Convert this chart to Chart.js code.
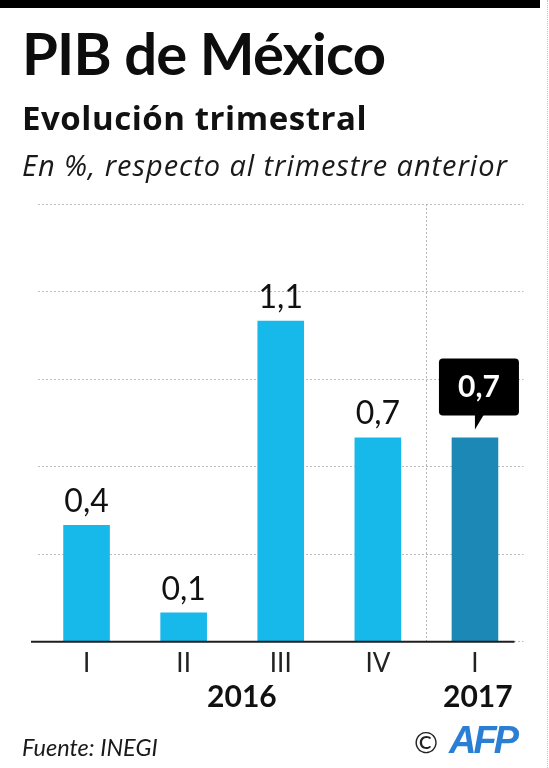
<!DOCTYPE html>
<html><head><meta charset="utf-8">
<script src="https://cdn.jsdelivr.net/npm/chart.js@4.4.0/dist/chart.umd.min.js"></script>
<style>
html,body{margin:0;padding:0;background:#fff;}
body{width:549px;height:768px;position:relative;overflow:hidden;font-family:Lato,"Noto Sans",sans-serif;color:#111;}
#topbar{position:absolute;left:0;top:0;width:540px;height:8px;background:#000;}
#rightedge{position:absolute;right:1px;top:0;width:0;height:768px;border-right:1px dotted #c9bcd6;}
.t{position:absolute;left:22px;white-space:nowrap;line-height:1;margin:0;}
#title{top:24px;font-size:58px;font-weight:700;color:#0d0d0d;letter-spacing:-0.8px;}
#sub{top:101px;font-size:33px;font-weight:700;color:#111;font-family:"Open Sans",Lato,sans-serif;letter-spacing:0.55px;}
#sub2{top:150px;font-size:29px;font-style:italic;font-weight:400;color:#1a1a1a;font-family:"Open Sans",Lato,sans-serif;letter-spacing:0.95px;}
#src{top:736px;font-size:23.5px;font-style:italic;color:#1a1a1a;}
#copy{position:absolute;left:414px;top:727px;font-size:29px;line-height:1;color:#222;}
#afp{position:absolute;left:449px;top:721px;font-size:38px;line-height:1;font-weight:900;font-style:italic;color:#2a7fd4;letter-spacing:-3px;font-family:"Liberation Sans",Arial,sans-serif;}
canvas{position:absolute;left:0;top:0;}
</style></head>
<body>
<div id="topbar"></div>
<div id="rightedge"></div>
<canvas id="c" width="549" height="768"></canvas>
<div class="t" id="title">PIB de México</div>
<div class="t" id="sub">Evolución trimestral</div>
<div class="t" id="sub2">En %, respecto al trimestre anterior</div>
<div class="t" id="src">Fuente: INEGI</div>
<div id="copy">©</div>
<div id="afp">AFP</div>
<script>
const categories = ['I', 'II', 'III', 'IV', 'I'];
const values = [0.4, 0.1, 1.1, 0.7, 0.7];
const gridValues = [0, 0.3, 0.6, 0.9, 1.2, 1.5];
const yearLabels = ['2016', '2017'];
const yearPositions = [1.6, 4.03];
const highlightIndex = 4;

const LIGHT = '#17b8ea';
const DARK = '#1b88b5';
const fmt = v => v.toFixed(1).replace('.', ',');

const decor = {
  id: 'decor',
  beforeDatasetsDraw(chart) {
    const {ctx, chartArea, scales} = chart;
    const x = scales.x, y = scales.y;
    const sx = (x.getPixelForValue(3) + x.getPixelForValue(4)) / 2;
    ctx.save();
    ctx.strokeStyle = '#b5b5b5';
    ctx.lineWidth = 1;
    ctx.setLineDash([2, 2]);
    ctx.beginPath();
    ctx.moveTo(Math.round(sx) + 0.5, chartArea.top);
    ctx.lineTo(Math.round(sx) + 0.5, y.getPixelForValue(0));
    ctx.stroke();
    ctx.restore();
  },
  afterDatasetsDraw(chart) {
    const {ctx, chartArea, scales} = chart;
    const x = scales.x, y = scales.y;
    const meta = chart.getDatasetMeta(0);
    ctx.save();
    const by = y.getPixelForValue(0);
    ctx.strokeStyle = '#1e1e1e';
    ctx.lineWidth = 2;
    ctx.beginPath();
    ctx.moveTo(chartArea.left - 7, by);
    ctx.lineTo(chartArea.right - 9, by);
    ctx.stroke();
    meta.data.forEach((bar, i) => {
      const v = values[i];
      if (i === highlightIndex) {
        const bw = 80, bh = 57;
        const cx = bar.x + 4;
        const tipY = bar.y - 8;
        const bottom = tipY - 14;
        const top = bottom - bh;
        const left = cx - bw / 2;
        ctx.fillStyle = '#000';
        ctx.beginPath();
        ctx.roundRect(left, top, bw, bh, 4);
        ctx.fill();
        ctx.beginPath();
        ctx.moveTo(bar.x, bottom - 1);
        ctx.lineTo(bar.x + 9, bottom - 1);
        ctx.lineTo(bar.x, tipY);
        ctx.closePath();
        ctx.fill();
        ctx.fillStyle = '#fff';
        ctx.font = '700 30px Lato, "Noto Sans", sans-serif';
        ctx.textAlign = 'center';
        ctx.textBaseline = 'alphabetic';
        ctx.fillText(fmt(v), cx, top + 39);
      } else {
        ctx.fillStyle = '#111';
        ctx.font = '400 32px Lato, "Noto Sans", sans-serif';
        ctx.textAlign = 'center';
        ctx.textBaseline = 'alphabetic';
        ctx.fillText(fmt(v), bar.x, bar.y - 13);
      }
    });
    ctx.fillStyle = '#111';
    ctx.font = '700 30px Lato, "Noto Sans", sans-serif';
    ctx.textAlign = 'center';
    ctx.textBaseline = 'alphabetic';
    yearLabels.forEach((lab, i) => {
      ctx.fillText(lab, x.getPixelForValue(yearPositions[i]), 707);
    });
    ctx.restore();
  }
};

new Chart(document.getElementById('c'), {
  type: 'bar',
  data: {
    labels: categories,
    datasets: [{
      data: values,
      backgroundColor: values.map((v, i) => i === highlightIndex ? DARK : LIGHT),
      borderWidth: 0,
      categoryPercentage: 1,
      barPercentage: 0.48
    }]
  },
  options: {
    responsive: false,
    devicePixelRatio: 1,
    animation: false,
    events: [],
    layout: {padding: {left: 38, right: 25.5, top: 204, bottom: 86.3}},
    plugins: {legend: {display: false}, tooltip: {enabled: false}, title: {display: false}},
    scales: {
      x: {
        grid: {display: false, drawTicks: false},
        border: {display: false},
        ticks: {
          color: '#222',
          padding: 6,
          font: {family: 'Lato, "Noto Sans", sans-serif', size: 26, weight: '400'}
        },
        afterFit(s) { s.height = 40; }
      },
      y: {
        min: 0,
        max: 1.5,
        afterBuildTicks(s) { s.ticks = gridValues.map(v => ({value: v})); },
        afterFit(s) { s.width = 0; },
        ticks: {display: false},
        grid: {color: '#bdbdbd', lineWidth: 1, drawTicks: false},
        border: {display: false, dash: [2, 2]}
      }
    }
  },
  plugins: [decor]
});
</script>
</body></html>
